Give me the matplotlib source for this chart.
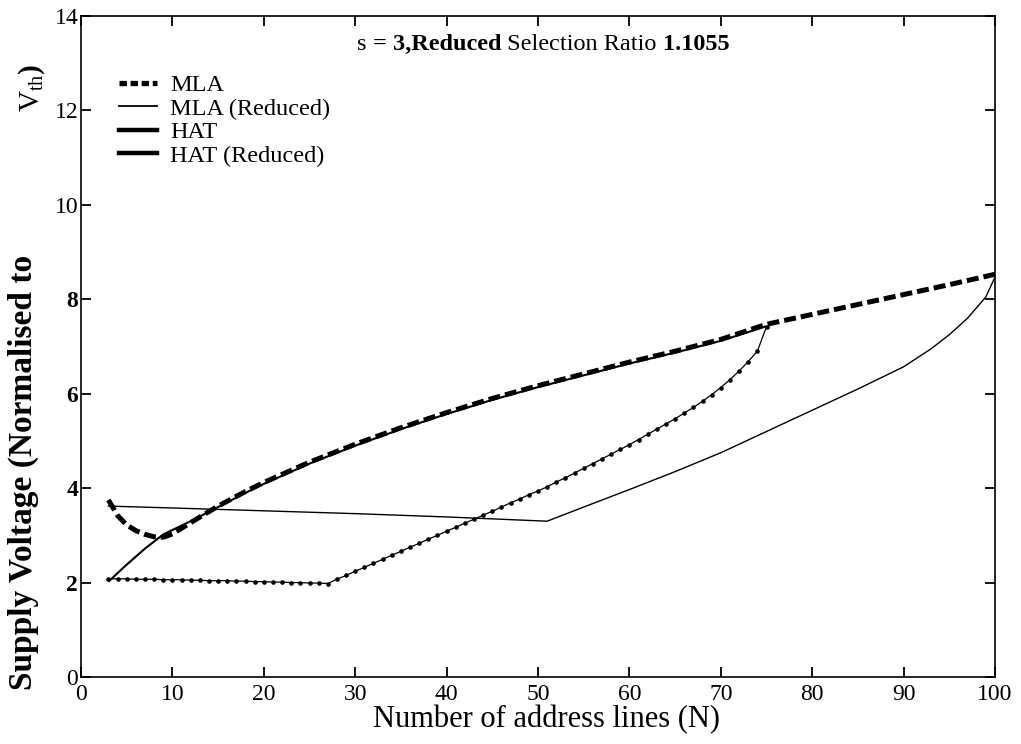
import matplotlib
matplotlib.use("Agg")
import matplotlib.pyplot as plt
from matplotlib.lines import Line2D

plt.rcParams['font.family'] = ['Liberation Serif', 'DejaVu Serif']
plt.rcParams['mathtext.fontset'] = 'custom'
plt.rcParams['mathtext.rm'] = 'Liberation Serif'
plt.rcParams['mathtext.it'] = 'Liberation Serif:italic'
plt.rcParams['mathtext.bf'] = 'Liberation Serif:bold'

# ---- data ----
mla_n = [3, 4, 5, 6, 7, 8, 9, 10, 12, 15, 18, 20, 25, 30, 35, 40, 45, 50,
         55, 60, 65, 70, 75, 80, 85, 90, 95, 100]
mla_v = [3.75, 3.42, 3.22, 3.10, 3.02, 2.97, 2.96, 3.03, 3.27, 3.62, 3.93, 4.12,
         4.55, 4.93, 5.28, 5.60, 5.90, 6.17, 6.42, 6.67, 6.90, 7.15, 7.47,
         7.68, 7.89, 8.10, 8.31, 8.53]

hat_n = [3, 5, 7, 9, 12, 15, 18, 20, 25, 30, 35, 40, 45, 50, 55, 60, 65, 70, 75]
hat_v = [2.02, 2.38, 2.72, 3.02, 3.30, 3.60, 3.90, 4.09, 4.52, 4.90, 5.25, 5.57,
         5.87, 6.14, 6.39, 6.64, 6.87, 7.12, 7.43]

mlar_n = [3, 10, 20, 30, 40, 51, 55, 60, 65, 70, 75, 80, 85, 90, 93, 95, 97, 99, 100]
mlar_v = [3.62, 3.58, 3.52, 3.46, 3.39, 3.30, 3.60, 3.97, 4.35, 4.75, 5.20, 5.65,
          6.10, 6.57, 6.95, 7.25, 7.60, 8.05, 8.47]

hatr_n = list(range(3, 76))
hatr_v = [2.08, 2.08, 2.08, 2.07, 2.07, 2.07, 2.06, 2.06, 2.06, 2.05, 2.05, 2.04,
          2.04, 2.04, 2.03, 2.03, 2.02, 2.02, 2.01, 2.01, 2.00, 2.00, 1.99, 1.99,
          1.98,
          2.07, 2.15, 2.24, 2.32, 2.41, 2.49, 2.58, 2.66, 2.75, 2.83, 2.92, 3.00,
          3.09, 3.17, 3.26, 3.34, 3.43, 3.51, 3.60, 3.69, 3.77, 3.86, 3.94, 4.03,
          4.13, 4.22, 4.32, 4.42, 4.52, 4.62, 4.72, 4.82, 4.92, 5.03, 5.14, 5.25,
          5.36, 5.47, 5.59, 5.71, 5.84, 5.98, 6.13, 6.30, 6.48, 6.68, 6.90, 7.42]

x_ticks = [0, 10, 20, 30, 40, 50, 60, 70, 80, 90, 100]
y_ticks = [0, 2, 4, 6, 8, 10, 12, 14]
labels = ["MLA", "MLA (Reduced)", "HAT", "HAT (Reduced)"]

fig = plt.figure(figsize=(10.21, 7.44), dpi=100)
ax = fig.add_axes([81/1021, 67/744, 914/1021, 661/744])

ax.plot(hat_n, hat_v, color='black', lw=1.5, solid_capstyle='butt')
ax.plot(mlar_n, mlar_v, color='black', lw=1.0)
ax.plot(hatr_n, hatr_v, color='black', lw=0.9, marker='o', markersize=2.3)
ax.plot(mla_n, mla_v, color='black', lw=3.6, dashes=(2.4, 1.0), dash_capstyle='butt')

ax.set_xlim(0, 100)
ax.set_ylim(0, 14)
ax.set_xticks(x_ticks)
ax.set_yticks(y_ticks)
ax.set_xticklabels([str(t) for t in x_ticks])
ax.set_yticklabels([str(t) for t in y_ticks])
for lab, t in zip(ax.get_yticklabels(), y_ticks):
    if t in (2, 4, 6, 8):
        lab.set_fontweight('bold')
ax.tick_params(direction='in', length=7, width=1.3, labelsize=17,
               top=True, right=True, pad=2)
ax.tick_params(axis='x', pad=5)
for s in ax.spines.values():
    s.set_linewidth(1.2)

# legend with proxy handles as drawn in the key
handles = [
    Line2D([], [], color='black', lw=3.8, dashes=(1.4, 0.7), dash_capstyle='butt'),
    Line2D([], [], color='black', lw=1.3),
    Line2D([], [], color='black', lw=3.2),
    Line2D([], [], color='black', lw=3.2),
]
ax.legend(handles, labels, loc='upper left', bbox_to_anchor=(0.042, 0.912),
          frameon=False, fontsize=17.5, handlelength=1.55, handletextpad=0.55,
          labelspacing=0.06, borderpad=0, borderaxespad=0)

# title inside the axes, mixed weights
t1 = ax.text(0.302, 0.949, "s ", transform=ax.transAxes, fontsize=17.5,
             va='baseline', ha='left')
t2 = ax.annotate("= 3,Reduced", xy=(1, 0), xycoords=t1, va='bottom', ha='left',
                 fontsize=17.5, fontweight='bold')
t3 = ax.annotate(" Selection Ratio ", xy=(1, 0), xycoords=t2, va='bottom',
                 ha='left', fontsize=17.5)
t4 = ax.annotate("1.1055", xy=(1, 0), xycoords=t3, va='bottom', ha='left',
                 fontsize=17.5, fontweight='bold')

ax.set_xlabel("Number of address lines (N)", fontsize=22, labelpad=0)
ax.xaxis.label.set_x(0.509)
fig.text(0.008, 54/744, "Supply Voltage (Normalised to", rotation=90,
         ha='left', va='bottom', fontsize=24, fontweight='bold')
fig.text(16/1021, (744-112)/744, r"$\mathrm{V}_{\mathrm{th}}$)", rotation=90,
         ha='left', va='bottom', fontsize=21, fontweight='bold')

fig.savefig("out.png", dpi=100)
